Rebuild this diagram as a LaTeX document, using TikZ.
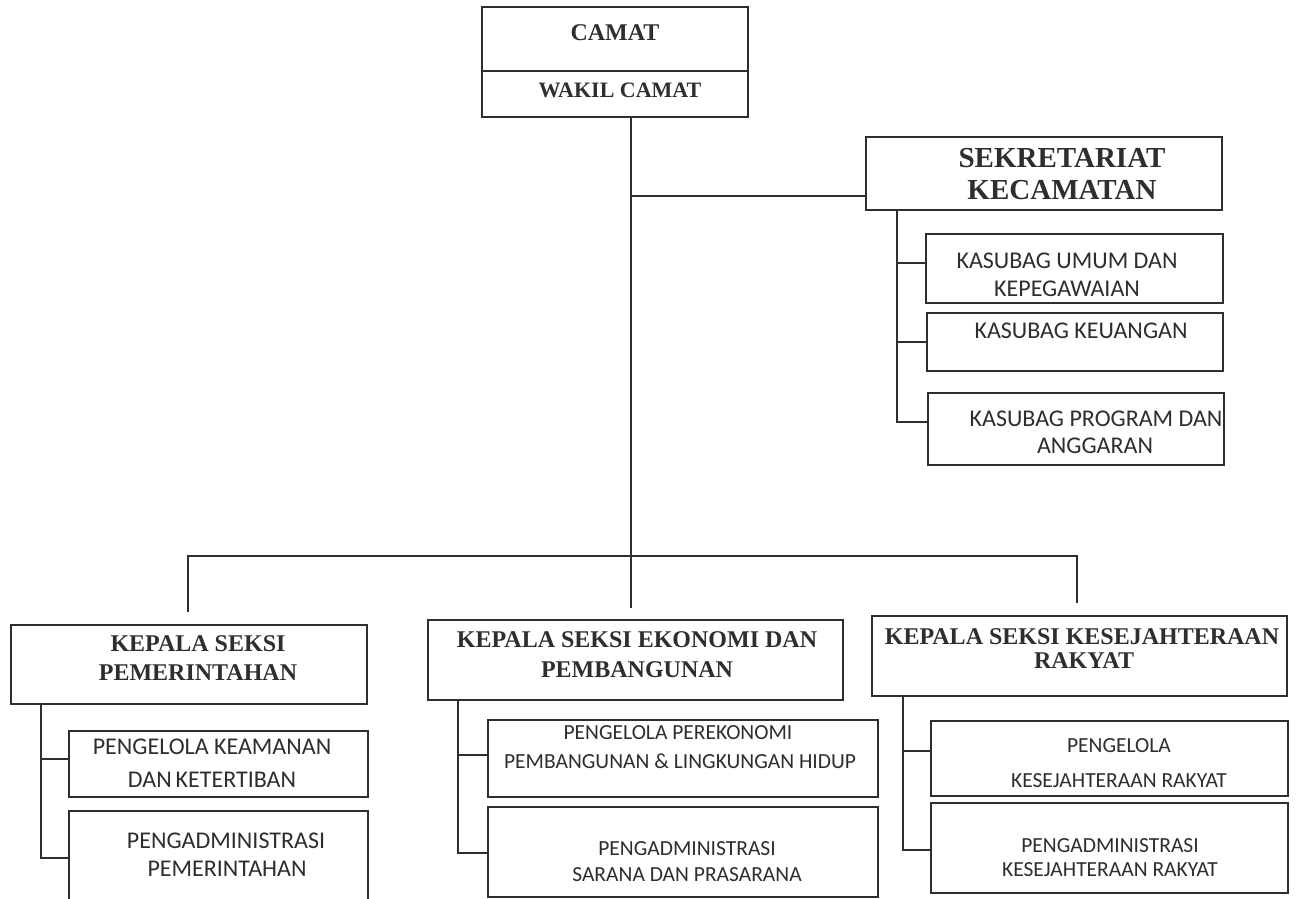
\documentclass[tikz,border=0pt]{standalone}
\usepackage{fontspec}
\newfontfamily\hdrfont{Liberation Serif}
\newfontfamily\subfont{Carlito}
\definecolor{ink}{HTML}{2E2E2E}
\begin{document}
\begin{tikzpicture}[x=1pt,y=-1pt,
  box/.style={draw=ink,line width=1.5pt,rectangle,inner sep=0pt,outer sep=0pt},
  conn/.style={draw=ink,line width=1.5pt},
  hdr/.style={anchor=base,inner sep=0pt,text=ink,font=\hdrfont\bfseries\fontsize{24}{28}\selectfont},
  big/.style={anchor=base,inner sep=0pt,text=ink,font=\hdrfont\bfseries\fontsize{29}{32}\selectfont},
  sub/.style={anchor=base,inner sep=0pt,text=ink,font=\subfont\fontsize{21.5}{26}\selectfont},
  subl/.style={anchor=base,inner sep=0pt,text=ink,font=\subfont\fontsize{24}{28}\selectfont}]
\useasboundingbox (0,0) rectangle (1296,899);
\clip (0,0) rectangle (1296,899);
\fill[white] (0,0) rectangle (1296,899);

% boxes
\node[box,minimum width=266pt,minimum height=64pt] (camat) at (615,39) {};
\node[box,minimum width=266pt,minimum height=46pt] (wakil) at (615,94) {};
\node[box,minimum width=356pt,minimum height=73pt] (sek) at (1044,173.5) {};
\node[box,minimum width=297pt,minimum height=69pt] (k1) at (1074.5,268.5) {};
\node[box,minimum width=296pt,minimum height=58pt] (k2) at (1075,342) {};
\node[box,minimum width=296pt,minimum height=72pt] (k3) at (1076,429) {};
\node[box,minimum width=356pt,minimum height=79pt] (pem) at (189,664.5) {};
\node[box,minimum width=299pt,minimum height=66pt] (pem1) at (218.5,764) {};
\node[box,minimum width=299pt,minimum height=109pt] (pem2) at (218.5,865.5) {};
\node[box,minimum width=415pt,minimum height=80pt] (eko) at (635.5,660) {};
\node[box,minimum width=390pt,minimum height=77pt] (eko1) at (683,758.5) {};
\node[box,minimum width=390pt,minimum height=90pt] (eko2) at (683,852) {};
\node[box,minimum width=415pt,minimum height=80pt] (kes) at (1079.5,656) {};
\node[box,minimum width=357pt,minimum height=75pt] (kes1) at (1109.5,758.5) {};
\node[box,minimum width=357pt,minimum height=90pt] (kes2) at (1109.5,848) {};

% texts
\node[hdr] (tcamat) at (615,41) {CAMAT};
\node[hdr,font=\hdrfont\bfseries\fontsize{22}{26}\selectfont] (twakil) at (620,97) {WAKIL CAMAT};
\node[big] (tsek1) at (1062,167) {SEKRETARIAT};
\node[big] (tsek2) at (1062,199) {KECAMATAN};
\node[subl] (tk1a) at (1067,268) {KASUBAG UMUM DAN};
\node[subl] (tk1b) at (1067,296) {KEPEGAWAIAN};
\node[subl] (tk2) at (1081,338) {KASUBAG KEUANGAN};
\node[subl] (tk3a) at (1096,426) {KASUBAG PROGRAM DAN};
\node[subl] (tk3b) at (1095,453) {ANGGARAN};

\node[hdr] (tpem1) at (198,651) {KEPALA SEKSI};
\node[hdr] (tpem2) at (198,680) {PEMERINTAHAN};
\node[subl] (tp1a) at (212,754) {PENGELOLA KEAMANAN};
\node[subl] (tp1b) at (212,787) {DAN\,KETERTIBAN};
\node[subl] (tp2a) at (226,848) {PENGADMINISTRASI};
\node[subl] (tp2b) at (227,876) {PEMERINTAHAN};

\node[hdr] (teko1) at (637,647) {KEPALA SEKSI EKONOMI DAN};
\node[hdr] (teko2) at (637,677) {PEMBANGUNAN};
\node[sub] (te1a) at (678,739) {PENGELOLA PEREKONOMI};
\node[sub] (te1b) at (680,768) {PEMBANGUNAN \& LINGKUNGAN HIDUP};
\node[sub] (te2a) at (687,855) {PENGADMINISTRASI};
\node[sub] (te2b) at (687,881) {SARANA DAN PRASARANA};

\node[hdr] (tkes1) at (1082,644) {KEPALA SEKSI KESEJAHTERAAN};
\node[hdr] (tkes2) at (1084,668) {RAKYAT};
\node[sub] (ts1a) at (1119,752) {PENGELOLA};
\node[sub] (ts1b) at (1119,787) {KESEJAHTERAAN RAKYAT};
\node[sub] (ts2a) at (1110,852) {PENGADMINISTRASI};
\node[sub] (ts2b) at (1110,876) {KESEJAHTERAAN RAKYAT};

% connectors
\coordinate (trunk) at (631,556);
\draw[conn] (wakil.south -| trunk) -- ([yshift=12pt]eko.north -| trunk);
\draw[conn] (trunk |- 0,196) -- (sek.west |- 0,196);
\draw[conn] ([yshift=13pt]pem.north -| 188,0) |- (trunk) -| ([yshift=13pt]kes.north -| 1077,0);

% sekretariat
\draw[conn] (sek.south -| 897,0) |- (k3.west |- 0,422);
\draw[conn] (k1.west |- 0,263) -- (897,263);
\draw[conn] (k2.west |- 0,342) -- (897,342);

% pemerintahan
\draw[conn] (pem.south -| 41,0) |- (pem2.west |- 0,858);
\draw[conn] (pem1.west |- 0,759) -- (41,759);

% ekonomi
\draw[conn] (eko.south -| 458,0) |- (eko2.west |- 0,853);
\draw[conn] (eko1.west |- 0,755) -- (458,755);

% kesejahteraan
\draw[conn] (kes.south -| 903,0) |- (kes2.west |- 0,850);
\draw[conn] (kes1.west |- 0,751) -- (903,751);
\end{tikzpicture}
\end{document}
